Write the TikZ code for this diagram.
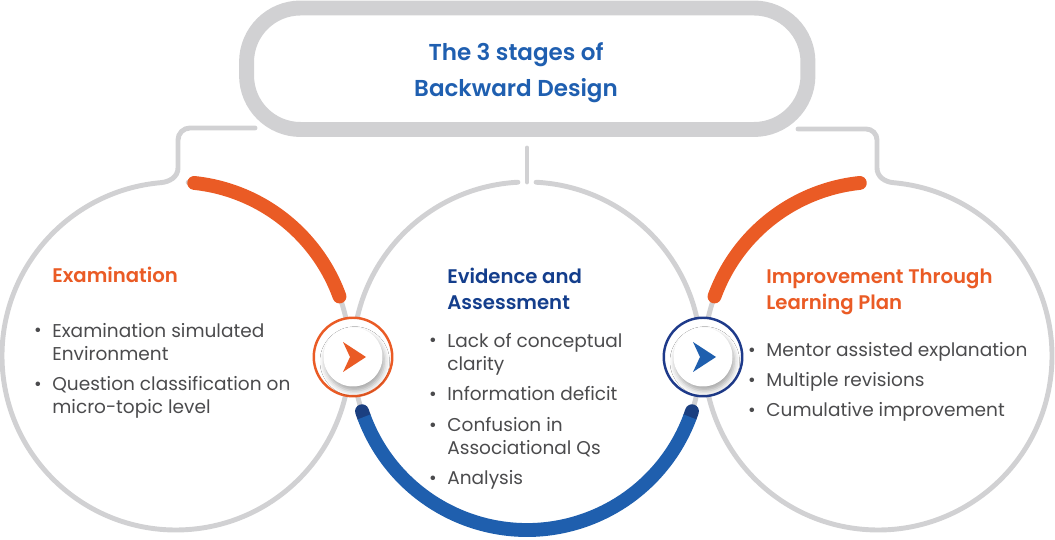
\documentclass[tikz,border=0pt]{standalone}
\usepackage{fontspec}
\setmainfont{Poppins}
\newfontfamily\headfont{Poppins SemiBold}
\usetikzlibrary{positioning, calc, shadows.blur}

\definecolor{ringgray}{HTML}{D1D1D3}
\definecolor{stageorange}{HTML}{EA5B25}
\definecolor{stageblue}{HTML}{1F5FAE}
\definecolor{stagenavy}{HTML}{1B3F80}
\definecolor{ringnavy}{HTML}{1E3A8A}
\definecolor{titleblue}{HTML}{1F5FB0}
\definecolor{headnavy}{HTML}{143E8C}
\definecolor{bodygray}{HTML}{4B4B4D}

\tikzset{
    ring/.style={draw=ringgray, line width=2.8pt, line cap=round},
    band/.style={line width=7.9pt, line cap=round},
    head/.style={anchor=base west, inner sep=0pt, align=left, font=\headfont\fontsize{11.2}{15}\selectfont},
    item/.style={anchor=base west, inner sep=0pt, align=left, text=bodygray, font=\fontsize{10.55}{13.6}\selectfont},
    dot/.style={anchor=base, inner sep=0pt, text=bodygray, font=\fontsize{10.55}{13.6}\selectfont},
    badge/.style={circle, fill=white, line width=1.4pt, minimum size=1.57cm, inner sep=0pt},
    disk/.style={circle, fill=white, minimum size=1.18cm, inner sep=0pt,
        blur shadow={shadow xshift=1pt, shadow yshift=-2.5pt, shadow blur radius=3pt, shadow opacity=35}}
}

\begin{document}
\begin{tikzpicture}[x=0.02cm, y=0.02cm]
    \useasboundingbox (0,0) rectangle (1055,540);

    \coordinate (cE) at (176,184);
    \coordinate (cA) at (527,184);
    \coordinate (cI) at (878,184);
    \coordinate (jE) at (255,412);
    \coordinate (jI) at (798,411);
    \coordinate (jA) at (527,392);

    % title pill
    \node[draw=ringgray, line width=8.5pt, rounded corners=1.08cm,
        minimum width=11.23cm, minimum height=2.43cm] (title) at (527.25,471.25) {};
    \node[align=center, anchor=base, inner sep=0pt, text=titleblue,
        font=\headfont\fontsize{13.1}{21}\selectfont] (titletext) at (516,443)
        {The 3 stages of\\Backward Design};

    % circles with their connectors
    \draw[ring] (jE) -- (190,412) to[out=180,in=90] (178,400) -- (178,372)
        to[out=-90,in=5] ($(cE)+(95:174)$) arc[start angle=95, end angle=446, radius=174];
    \draw[ring] ($(cA)+(87:174)$) arc[start angle=87, end angle=-267, radius=174];
    \draw[ring] (jA) -- ($(cA)+(0,174)$);
    \draw[ring] (jI) -- (866,411) to[out=0,in=90] (877,400) -- (877,372)
        to[out=-90,in=175] ($(cI)+(85:174)$) arc[start angle=85, end angle=-265, radius=174];

    % coloured bands
    \draw[band, stageorange] ($(cE)+(20:174)$) arc[start angle=20, end angle=84, radius=174];
    \draw[band, stageorange] ($(cI)+(96:174)$) arc[start angle=96, end angle=160, radius=174];
    \draw[band, stagenavy] ($(cA)+(-161.5:174)$) arc[start angle=-161.5, end angle=-159.5, radius=174];
    \draw[band, stagenavy] ($(cA)+(-20.5:174)$) arc[start angle=-20.5, end angle=-18.5, radius=174];
    \draw[band, stageblue, line cap=butt] ($(cA)+(-159.5:174)$) arc[start angle=-159.5, end angle=-20.5, radius=174];

    % arrow badges
    \node[badge, draw=stageorange] (bE) at (353,183) {};
    \node[disk] (dE) at (bE) {};
    \fill[stageorange] ($(bE)+(-10,15)$) -- ($(bE)+(13,0)$) -- ($(bE)+(-10,-15)$) -- ($(bE)+(-3,0)$) -- cycle;
    \node[badge, draw=ringnavy] (bI) at (703,183) {};
    \node[disk] (dI) at (bI) {};
    \fill[stageblue] ($(bI)+(-10,15)$) -- ($(bI)+(13,0)$) -- ($(bI)+(-10,-15)$) -- ($(bI)+(-3,0)$) -- cycle;

    % examination
    \node[head, text=stageorange] (hE) at (52,257) {Examination};
    \node[item] (e1) at (52,179) {Examination simulated\\Environment};
    \node[item] (e2) at (52,126) {Question classification on\\micro-topic level};
    \node[dot] at (38,203) {•};
    \node[dot] at (38,149) {•};

    % evidence and assessment
    \node[head, text=headnavy] (hA) at (447,230) {Evidence and\\Assessment};
    \node[item] (a1) at (447,169) {Lack of conceptual\\clarity};
    \node[item] (a2) at (447,139) {Information deficit};
    \node[item] (a3) at (447,85) {Confusion in\\Associational Qs};
    \node[item] (a4) at (447,55) {Analysis};
    \node[dot] at (433,193) {•};
    \node[dot] at (433,139) {•};
    \node[dot] at (433,108) {•};
    \node[dot] at (433,55) {•};

    % improvement
    \node[head, text=stageorange] (hI) at (766,230) {Improvement Through\\Learning Plan};
    \node[item] (i1) at (766,183) {Mentor assisted explanation};
    \node[item] (i2) at (766,153) {Multiple revisions};
    \node[item] (i3) at (766,123) {Cumulative improvement};
    \node[dot] at (752,183) {•};
    \node[dot] at (752,153) {•};
    \node[dot] at (752,123) {•};
\end{tikzpicture}
\end{document}
